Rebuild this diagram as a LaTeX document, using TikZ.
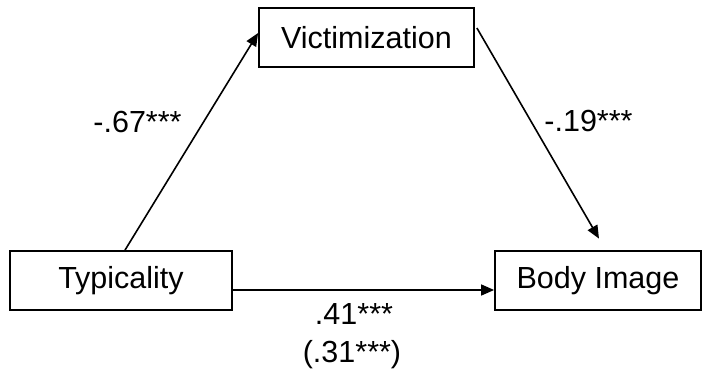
\documentclass[tikz,border=0pt]{standalone}
\usepackage{fontspec}
\setmainfont{Liberation Sans}
\usetikzlibrary{arrows.meta}

\begin{document}
\begin{tikzpicture}[
        x=1pt, y=-1pt,
        every node/.style={font=\fontsize{30.5}{36}\selectfont},
        varbox/.style={draw, line width=1.8pt, minimum height=59pt, inner sep=0pt},
        coef/.style={anchor=base, inner sep=0pt},
        effect/.style={draw, line width=1.6pt, -{Triangle[length=13pt, width=11pt]}},
    ]
    \useasboundingbox (0,0) rectangle (705,374);
    \node[varbox, minimum width=215pt](vic) at (366.5,37.5){Victimization};
    \node[varbox, minimum width=222pt](typ) at (121,280.5){Typicality};
    \node[varbox, minimum width=206pt](body) at (598,280.5){Body Image};
    \draw[effect] ([xshift=4pt]typ.north) -- ([yshift=4.5pt]vic.west);
    \draw[effect] ([xshift=2pt, yshift=9.5pt]vic.east) -- ([xshift=1pt, yshift=11.5pt]body.north);
    \draw[effect] ([yshift=-9.5pt]typ.east) -- ([yshift=-9.5pt]body.west);
    \node[coef](a) at (137.5,133){-.67***};
    \node[coef](b) at (588.5,132){-.19***};
    \node[coef](c) at (354,325){.41***};
    \node[coef](c2) at (352,362.5){(.31***)};
\end{tikzpicture}
\end{document}
